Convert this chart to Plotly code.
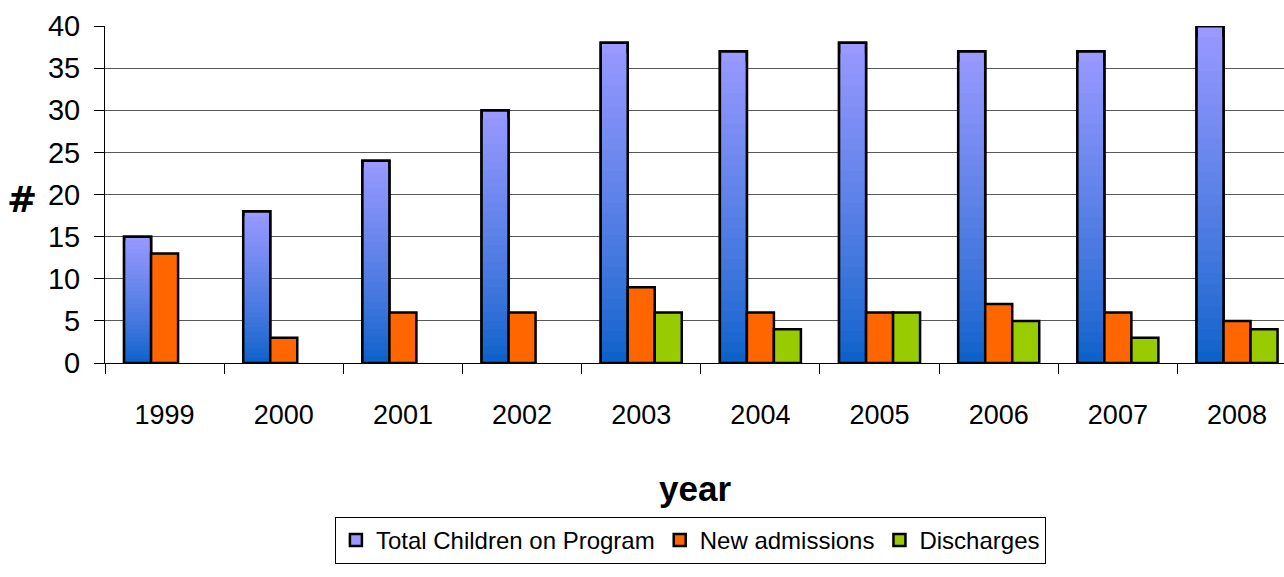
import plotly.graph_objects as go

years = ["1999", "2000", "2001", "2002", "2003", "2004", "2005", "2006", "2007", "2008"]
total_children = [15, 18, 24, 30, 38, 37, 38, 37, 37, 40]
new_admissions = [13, 3, 6, 6, 9, 6, 6, 7, 6, 5]
discharges = [None, None, None, None, 6, 4, 6, 5, 3, 4]

FONT = "Liberation Sans"
LIGHT = (153, 153, 255)
DARK = (8, 96, 200)
N_LAYERS = 30

fig = go.Figure()

def lerp(a, b, t):
    return tuple(int(round(a[i] + (b[i] - a[i]) * t)) for i in range(3))

# gradient-filled "Total Children" bars built from overlaid layers
for k in range(N_LAYERS):
    frac = 1 - k / N_LAYERS
    t = 1 - (k + 0.5) / N_LAYERS  # position from bottom (0) to top (1)
    tt = t ** 0.8
    c = lerp(DARK, LIGHT, tt) if k > 0 else LIGHT
    fig.add_trace(go.Bar(
        x=years, y=[v * frac for v in total_children],
        name="Total Children on Program",
        offsetgroup="a",
        marker=dict(color="rgb(%d,%d,%d)" % c,
                    line=dict(color="black", width=2.5 if k == 0 else 0)),
        showlegend=(k == 0), hoverinfo="skip",
    ))
fig.add_trace(go.Bar(
    x=years, y=total_children, offsetgroup="a", showlegend=False,
    marker=dict(color="rgba(0,0,0,0)", line=dict(color="black", width=2.5)),
    hoverinfo="skip",
))
fig.add_trace(go.Bar(
    x=years, y=new_admissions, name="New admissions", offsetgroup="b",
    marker=dict(color="#FF6600", line=dict(color="black", width=2.5)),
))
fig.add_trace(go.Bar(
    x=years, y=discharges, name="Discharges", offsetgroup="c",
    marker=dict(color="#99CC00", line=dict(color="black", width=2.5)),
))

fig.update_layout(
    width=1284, height=577,
    margin=dict(l=105, r=0, t=26, b=214),
    paper_bgcolor="white", plot_bgcolor="white",
    barmode="group", bargap=0.32, bargroupgap=0,
    font=dict(family=FONT, color="black"),
    xaxis=dict(
        type="category", range=[-0.5, 9.394],
        showline=True, linecolor="black", linewidth=1,
        ticks="outside", tickson="boundaries", ticklen=10, tickcolor="black",
        tickfont=dict(size=27, family=FONT), ticklabelstandoff=28,
        showgrid=False,
    ),
    yaxis=dict(
        range=[0, 40], dtick=5,
        showline=True, linecolor="black", linewidth=1,
        ticks="outside", ticklen=10, tickcolor="black",
        tickfont=dict(size=29, family=FONT), ticklabelstandoff=8,
        showgrid=True, gridcolor="#5a5a5a", gridwidth=1,
        zeroline=False,
    ),
    legend=dict(
        orientation="h", x=0.195, xanchor="left", y=-0.457, yanchor="top",
        bordercolor="black", borderwidth=1, bgcolor="white",
        font=dict(size=24, family=FONT), itemwidth=30,
        traceorder="normal",
    ),
    annotations=[
        dict(text="year", xref="paper", yref="paper", x=0.5004, y=-0.371,
             xanchor="center", yanchor="middle", showarrow=False,
             font=dict(size=35, family=FONT, weight="bold")),
        dict(text="#", xref="paper", yref="paper", x=-0.0704, y=0.4837,
             xanchor="center", yanchor="middle", showarrow=False,
             font=dict(size=36, family="DejaVu Sans", weight="bold")),
    ],
)

fig.write_html("out.html", config={"displayModeBar": False},
               post_script="document.body.style.margin='0';")
